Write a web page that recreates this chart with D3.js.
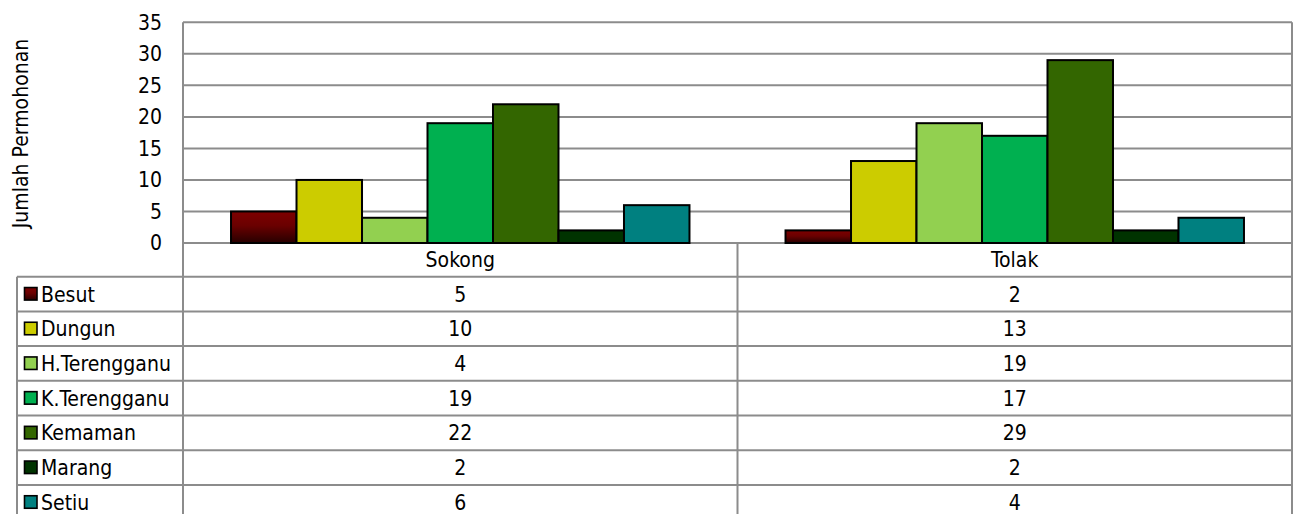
<!DOCTYPE html>
<html>
<head>
<meta charset="utf-8">
<script src="https://cdn.jsdelivr.net/npm/d3@7"></script>
<style>
  body { margin: 0; background: #fff; }
  svg { display: block; font-family: "DejaVu Sans Condensed", "DejaVu Sans", sans-serif; font-stretch: condensed; }
  .grid_line { stroke: #8c8c8c; stroke-width: 2; }
  .table_line { stroke: #8c8c8c; stroke-width: 2; }
  .bar { stroke: #000; stroke-width: 2; }
  .cell_text { font-size: 21px; fill: #000; }
  .tick_label { font-size: 21px; fill: #000; }
  .y-axis-label { font-size: 21px; fill: #000; }
</style>
</head>
<body>
<div class="chart_wrapper"></div>
<script>
// data
const categories = ["Sokong", "Tolak"]
const districts = ["Besut", "Dungun", "H.Terengganu", "K.Terengganu", "Kemaman", "Marang", "Setiu"]
const sokongValues = [5, 10, 4, 19, 22, 2, 6]
const tolakValues = [2, 13, 19, 17, 29, 2, 4]
const yTicks = [0, 5, 10, 15, 20, 25, 30, 35]
const districtColors = ["url(#besut_grad)", "#cccc00", "#92d050", "#00b050", "#336600", "#003300", "#008080"]

const seriesValues = {Sokong: sokongValues, Tolak: tolakValues}

const dataset = []
categories.forEach(cat => {
  districts.forEach((dist, i) => {
    dataset.push({category: cat, district: dist, value: seriesValues[cat][i]})
  })
})

const xAccessor = d => d.category
const yAccessor = d => d.value

let dimensions = {
  width: 1296,
  height: 514,
  plotLeft: 183,
  plotRight: 1292,
  plotTop: 22.3,
  plotBottom: 243,
  tableLeft: 17,
  rowTop: 276.7,
  rowHeight: 34.7,
}

// draw canvas
const wrapper = d3.select(".chart_wrapper")
  .append("svg")
    .attr("width", dimensions.width)
    .attr("height", dimensions.height)

const defs = wrapper.append("defs")
const grad = defs.append("linearGradient")
    .attr("id", "besut_grad")
    .attr("x1", 0).attr("y1", 0).attr("x2", 0).attr("y2", 1)
grad.append("stop").attr("offset", "0%").attr("stop-color", "#7e0000")
grad.append("stop").attr("offset", "45%").attr("stop-color", "#6a0000")
grad.append("stop").attr("offset", "100%").attr("stop-color", "#260000")

// scales
const xScale = d3.scaleBand()
    .domain(categories)
    .range([dimensions.plotLeft, dimensions.plotRight])
    .padding(0)

const sideGap = xScale.bandwidth() * 0.0866
const innerScale = d3.scaleBand()
    .domain(districts)
    .range([sideGap, xScale.bandwidth() - sideGap])
    .padding(0)

const yScale = d3.scaleLinear()
    .domain([0, 35])
    .range([dimensions.plotBottom, dimensions.plotTop])

const colorScale = d3.scaleOrdinal()
    .domain(districts)
    .range(districtColors)

const rowScale = d3.scaleBand()
    .domain(districts)
    .range([dimensions.rowTop, dimensions.rowTop + districts.length * dimensions.rowHeight])

// gridlines
const grid = wrapper.append("g")
grid.selectAll("line")
  .data(yTicks)
  .enter().append("line")
    .attr("class", "grid_line")
    .attr("x1", dimensions.plotLeft)
    .attr("x2", dimensions.plotRight)
    .attr("y1", d => yScale(d))
    .attr("y2", d => yScale(d))

// y tick labels
const yAxisGenerator = d3.axisLeft()
  .scale(yScale)
  .tickValues(yTicks)
  .tickSize(0)
  .tickPadding(21)

const yAxis = wrapper.append("g")
    .attr("transform", `translate(${dimensions.plotLeft}, 0)`)
    .call(yAxisGenerator)
yAxis.select(".domain").remove()
yAxis.selectAll("text")
    .attr("class", "tick_label")
    .attr("fill", "#000")
yAxis.attr("font-size", null).attr("font-family", null)

const yAxisLabel = wrapper.append("text")
    .attr("class", "y-axis-label")
    .attr("transform", `translate(28, ${(37 + 230) / 2}) rotate(-90)`)
    .attr("text-anchor", "middle")
    .text("Jumlah Permohonan")

// bars
const bars = wrapper.append("g")
bars.selectAll("rect")
  .data(dataset)
  .enter().append("rect")
    .attr("class", "bar")
    .attr("x", d => xScale(xAccessor(d)) + innerScale(d.district))
    .attr("y", d => yScale(yAccessor(d)))
    .attr("width", innerScale.bandwidth())
    .attr("height", d => yScale(0) - yScale(yAccessor(d)))
    .attr("fill", d => colorScale(d.district))

// table lines
const table = wrapper.append("g")
const rowLines = districts.map(d => rowScale(d))
table.selectAll(".row_line")
  .data(rowLines)
  .enter().append("line")
    .attr("class", "table_line")
    .attr("x1", dimensions.tableLeft)
    .attr("x2", dimensions.plotRight)
    .attr("y1", d => d)
    .attr("y2", d => d)

const vLines = [
  {x: dimensions.tableLeft, y1: dimensions.rowTop},
  {x: dimensions.plotLeft, y1: dimensions.plotTop},
  {x: xScale("Tolak"), y1: dimensions.plotBottom},
  {x: dimensions.plotRight, y1: dimensions.plotTop},
]
table.selectAll(".v_line")
  .data(vLines)
  .enter().append("line")
    .attr("class", "table_line")
    .attr("x1", d => d.x)
    .attr("x2", d => d.x)
    .attr("y1", d => d.y1)
    .attr("y2", dimensions.height + 5)

// category headers
table.selectAll(".cat_label")
  .data(categories)
  .enter().append("text")
    .attr("class", "cell_text")
    .attr("x", d => xScale(d) + xScale.bandwidth() / 2)
    .attr("y", (dimensions.plotBottom + dimensions.rowTop) / 2)
    .attr("dy", "0.36em")
    .attr("text-anchor", "middle")
    .text(d => d)

// legend keys + names
const rows = table.selectAll(".row")
  .data(districts)
  .enter().append("g")
    .attr("transform", d => `translate(0, ${rowScale(d) + rowScale.bandwidth() / 2})`)

rows.append("rect")
    .attr("x", 24.5)
    .attr("y", -6.5)
    .attr("width", 12.5)
    .attr("height", 12.5)
    .attr("fill", d => colorScale(d))
    .attr("stroke", "#000")
    .attr("stroke-width", 1.6)

rows.append("text")
    .attr("class", "cell_text")
    .attr("x", 41)
    .attr("dy", "0.36em")
    .text(d => d)

// values
table.selectAll(".value_text")
  .data(dataset)
  .enter().append("text")
    .attr("class", "cell_text")
    .attr("x", d => xScale(xAccessor(d)) + xScale.bandwidth() / 2)
    .attr("y", d => rowScale(d.district) + rowScale.bandwidth() / 2)
    .attr("dy", "0.36em")
    .attr("text-anchor", "middle")
    .text(d => yAccessor(d))
</script>
</body>
</html>
